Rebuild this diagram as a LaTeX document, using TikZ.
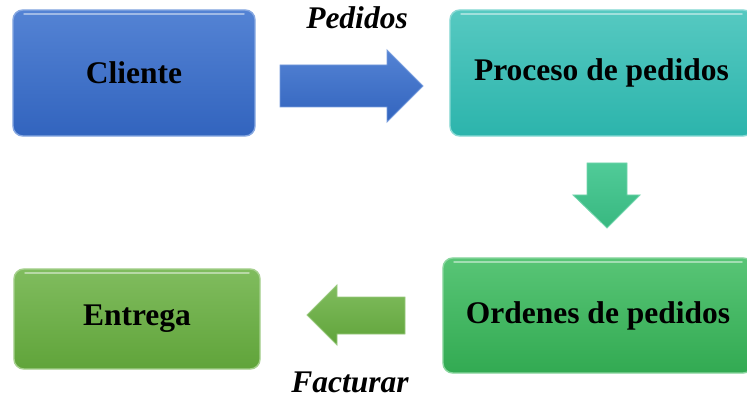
\documentclass[tikz,border=0pt]{standalone}
\usepackage{fontspec}
\setmainfont{Liberation Serif}
\usetikzlibrary{positioning, calc}
\definecolor{cliblue}{RGB}{84, 131, 212}
\definecolor{cliblueb}{RGB}{50, 100, 190}
\definecolor{proteal}{RGB}{86, 201, 193}
\definecolor{protealb}{RGB}{44, 180, 172}
\definecolor{ordgreen}{RGB}{88, 197, 118}
\definecolor{ordgreenb}{RGB}{50, 170, 82}
\definecolor{entgreen}{RGB}{128, 188, 94}
\definecolor{entgreenb}{RGB}{96, 164, 58}
\definecolor{downgreen}{RGB}{80, 203, 152}
\definecolor{downgreenb}{RGB}{56, 184, 128}

\tikzset{
  stepbox/.style={rounded corners=7pt, line width=1pt, inner sep=0pt,
    font=\fontsize{22.4}{26}\selectfont\bfseries},
  flowlabel/.style={inner sep=0pt, anchor=base, font=\fontsize{22.4}{26}\selectfont\bfseries\itshape},
  blockarrow/.style={line width=0.6pt, line join=miter}
}

\begin{document}
\begin{tikzpicture}[x=0.025cm, y=-0.025cm]
  \useasboundingbox (0,0) rectangle (747,399);

  % boxes
  \node[stepbox, draw=cliblue!70!white, top color=cliblue, bottom color=cliblueb,
        minimum width=6.05cm, minimum height=3.15cm] (cliente) at (134,73) {Cliente};
  \node[stepbox, draw=proteal!70!white, top color=proteal, bottom color=protealb,
        minimum width=7.575cm, minimum height=3.15cm] (proceso) at (601.5,73) {Proceso de pedidos};
  \node[stepbox, draw=ordgreen!70!white, top color=ordgreen, bottom color=ordgreenb,
        minimum width=7.75cm, minimum height=2.875cm] (ordenes) at (598,315.5) {Ordenes de pedidos};
  \node[stepbox, draw=entgreen!70!white, top color=entgreen, bottom color=entgreenb,
        minimum width=6.15cm, minimum height=2.5cm] (entrega) at (137,319) {Entrega};

  % gloss on the top edge
  \foreach \b in {cliente, proceso, ordenes, entrega}
    \draw[white, opacity=.45, line width=1.5pt, line cap=round]
      ($(\b.north west)+(12,5)$) -- ($(\b.north east)+(-12,5)$);

  % arrows
  \draw[blockarrow, draw=cliblue!80!white, top color=cliblue, bottom color=cliblueb]
    (280,65) -- (387,65) -- (387,50) -- (423,86) -- (387,122) -- (387,107) -- (280,107) -- cycle;
  \draw[blockarrow, draw=downgreen!80!white, top color=downgreen, bottom color=downgreenb]
    (587,163) -- (627,163) -- (627,195) -- (640,195) -- (607,228) -- (573,195) -- (587,195) -- cycle;
  \draw[blockarrow, draw=entgreen!80!white, top color=entgreen, bottom color=entgreenb]
    (405,297) -- (337,297) -- (337,285) -- (307,315) -- (337,345) -- (337,334) -- (405,334) -- cycle;

  % labels
  \node[flowlabel] (pedidos) at (357,29) {Pedidos};
  \node[flowlabel] (facturar) at (350,392) {Facturar};
\end{tikzpicture}
\end{document}
